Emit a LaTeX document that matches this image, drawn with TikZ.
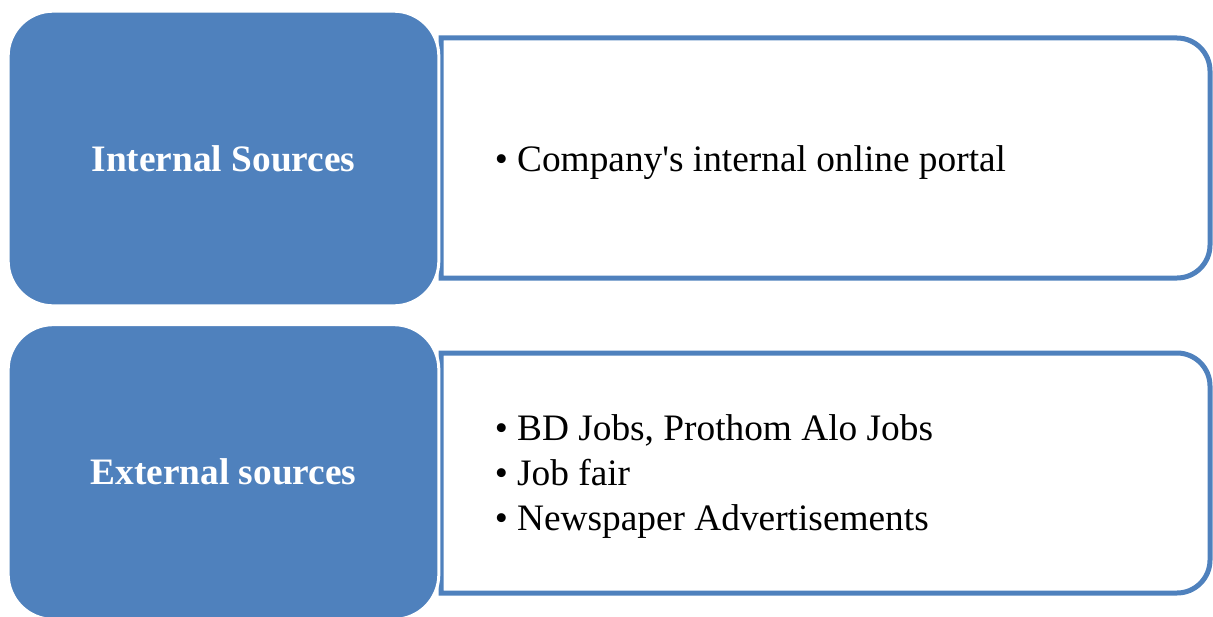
\documentclass[tikz,border=0pt]{standalone}
\usepackage{fontspec}
\setmainfont{Liberation Serif}
\usepackage{tikz}
\usetikzlibrary{positioning}
\definecolor{srcblue}{HTML}{4F81BD}

\tikzset{
  srcbox/.style={fill=srcblue, draw=white, line width=2.25pt, rounded corners=33.75pt,
    minimum width=323pt, minimum height=221pt, inner sep=0pt, text=white,
    font=\fontsize{28}{34}\selectfont\bfseries},
  listtext/.style={anchor=west, align=left, inner sep=0pt,
    font=\fontsize{28}{33.75}\selectfont},
  listframe/.style={draw=srcblue, line width=3.75pt}
}

\begin{document}
\begin{tikzpicture}[x=0.75pt, y=-0.75pt]
  \useasboundingbox (0,0) rectangle (1213,617);

  % Outline frames on the right
  \draw[listframe] (441,38) -- (1177,38) arc[start angle=270, end angle=360, radius=33]
    -- (1210,245) arc[start angle=0, end angle=90, radius=33] -- (441,278) -- cycle;
  \draw[listframe] (441,353) -- (1177,353) arc[start angle=270, end angle=360, radius=33]
    -- (1210,560) arc[start angle=0, end angle=90, radius=33] -- (441,593) -- cycle;

  % Blue source boxes
  \node[srcbox] (intbox) at (223.5,158.5) {Internal Sources};
  \node[srcbox] (extbox) at (223.5,472) {External sources};

  % Lists
  \node[listtext] (intlist) at (494.5,163) {• Company\textquotesingle s internal online portal};
  \node[listtext] (extlist) at (494.5,477) {• BD Jobs, Prothom Alo Jobs\\• Job fair\\• Newspaper Advertisements};
\end{tikzpicture}
\end{document}
